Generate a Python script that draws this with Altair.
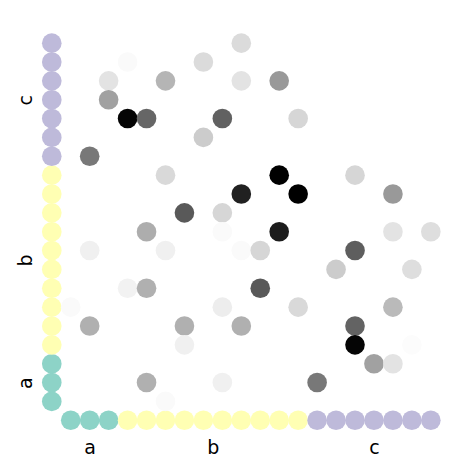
import altair as alt
import pandas as pd

# group membership of the 20 rows / columns
group_names = ["a", "b", "c"]
group_sizes = [3, 10, 7]
group_colors = ["#8dd3c7", "#ffffb3", "#bebada"]

# matrix entries: column index, row index, intensity (0 = white, 1 = black)
cols = [9, 3, 7, 2, 5, 9, 11, 2, 3, 4, 8, 12, 7, 1, 5, 11, 15, 9, 12, 17, 6, 8,
        4, 8, 11, 17, 19, 1, 5, 9, 10, 15, 14, 18, 3, 4, 10, 0, 8, 12, 17,
        1, 6, 9, 15, 6, 15, 18, 16, 17, 4, 8, 13, 5]
rows = [19, 18, 18, 17, 17, 17, 17, 16, 15, 15, 15, 15, 14, 13, 12, 12, 12, 11, 11, 11, 10, 10,
        9, 9, 9, 9, 9, 8, 8, 8, 8, 8, 7, 7, 6, 6, 6, 5, 5, 5, 5,
        4, 4, 4, 4, 3, 3, 3, 2, 2, 1, 1, 1, 0]
values = [0.14, 0.02, 0.14, 0.11, 0.29, 0.11, 0.40, 0.37, 0.98, 0.60, 0.62, 0.16, 0.20, 0.53,
          0.15, 1.00, 0.16, 0.87, 1.00, 0.40, 0.65, 0.16,
          0.32, 0.02, 0.89, 0.11, 0.13, 0.06, 0.06, 0.02, 0.16, 0.63, 0.20, 0.13,
          0.05, 0.31, 0.65, 0.02, 0.07, 0.15, 0.27,
          0.31, 0.31, 0.31, 0.61, 0.06, 0.98, 0.01, 0.37, 0.11, 0.31, 0.06, 0.53, 0.02]

labels = []
for g, n in zip(group_names, group_sizes):
    labels += [g] * n
n_items = len(labels)

# tick positions at the centre of each group
tick_pos = []
start = 0
for n in group_sizes:
    tick_pos.append(start + (n - 1) / 2)
    start += n

label_expr = "''"
for p, g in reversed(list(zip(tick_pos, group_names))):
    label_expr = f"datum.value == {p} ? '{g}' : ({label_expr})"

matrix_df = pd.DataFrame({"col": cols, "row": rows, "value": values})
margin_df = pd.DataFrame(
    {
        "col": [-1] * n_items + list(range(n_items)),
        "row": list(range(n_items)) + [-1] * n_items,
        "group": labels + labels,
    }
)

dom = [-1.5, n_items - 0.5]
xscale = alt.Scale(domain=dom, nice=False, zero=False)
yscale = alt.Scale(domain=dom, nice=False, zero=False)

axis_common = dict(
    values=tick_pos,
    labelExpr=label_expr,
    domain=False,
    ticks=False,
    tickSize=0,
    grid=False,
    title=None,
    labelFont="DejaVu Sans",
    labelFontSize=19,
    labelColor="#000000",
    labelOverlap=False,
    labelFlush=False,
)

xaxis = alt.Axis(orient="bottom", labelPadding=24, labelAlign="center",
                 labelBaseline="alphabetic", **axis_common)
yaxis = alt.Axis(orient="left", labelPadding=11, labelAngle=270, labelAlign="center",
                 labelBaseline="alphabetic", **axis_common)

SIZE = 385

margin = alt.Chart(margin_df).mark_point(filled=True, shape="circle", size=SIZE, opacity=1).encode(
    x=alt.X("col:Q", scale=xscale, axis=xaxis),
    y=alt.Y("row:Q", scale=yscale, axis=yaxis),
    color=alt.Color("group:N", scale=alt.Scale(domain=group_names, range=group_colors), legend=None),
)

matrix = alt.Chart(matrix_df).mark_point(filled=True, shape="circle", size=SIZE, opacity=1).encode(
    x=alt.X("col:Q", scale=xscale, axis=xaxis),
    y=alt.Y("row:Q", scale=yscale, axis=yaxis),
    color=alt.Color(
        "value:Q",
        scale=alt.Scale(domain=[0, 1], range=["#ffffff", "#000000"], interpolate="rgb"),
        legend=None,
    ),
)

chart = (
    alt.layer(margin, matrix)
    .resolve_scale(color="independent")
    .properties(
        width=398,
        height=396,
        autosize=alt.AutoSizeParams(type="none"),
        padding={"left": 42.3, "top": 33.7, "right": 31.7, "bottom": 42.3},
        background="#ffffff",
    )
    .configure_view(stroke=None)
)

chart.save("out.html", embed_options={"renderer": "svg", "actions": False})
